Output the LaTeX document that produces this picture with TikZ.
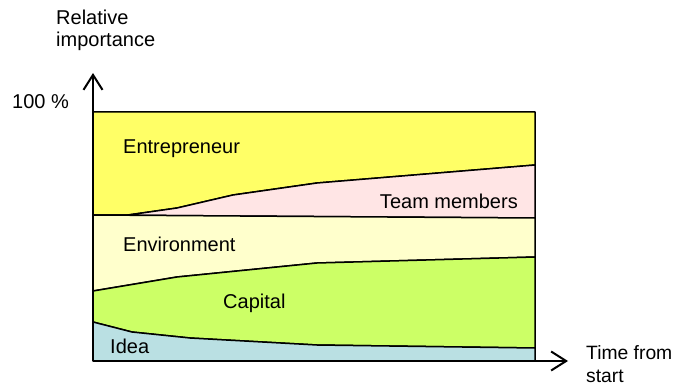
\documentclass[tikz,border=0pt]{standalone}
\usepackage{fontspec}
\setmainfont{Liberation Sans}
\usepackage{tikz}
\usetikzlibrary{arrows.meta, positioning}
\definecolor{entrecolor}{RGB}{255,255,102}
\definecolor{teamcolor}{RGB}{255,229,229}
\definecolor{envcolor}{RGB}{255,255,204}
\definecolor{capcolor}{RGB}{204,255,102}
\definecolor{ideacolor}{RGB}{186,224,227}

\begin{document}
\begin{tikzpicture}[
    x=1pt, y=-1pt,
    band/.style={draw, line width=1.5pt, line join=round, fill=#1},
    lbl/.style={anchor=base west, inner sep=0pt, font=\fontsize{20}{22.5}\selectfont, align=left},
    axis/.style={line width=2pt, -{Straight Barb[length=15pt, width=19pt, line width=2pt]}}
]
    \useasboundingbox (0,0) rectangle (674,385);

    % Bands
    \draw[band=entrecolor] (93,112) -- (535,112) -- (535,165) -- (317,183) -- (233,195) -- (177,208) -- (128,215) -- (93,215) -- cycle;
    \draw[band=teamcolor] (93,215) -- (128,215) -- (177,208) -- (233,195) -- (317,183) -- (535,165) -- (535,218) -- cycle;
    \draw[band=envcolor] (93,215) -- (535,218) -- (535,257) -- (317,263) -- (177,277) -- (93,291) -- cycle;
    \draw[band=capcolor] (93,291) -- (177,277) -- (317,263) -- (535,257) -- (535,348) -- (317,345) -- (190,338) -- (132,332) -- (93,322) -- cycle;
    \draw[band=ideacolor] (93,322) -- (132,332) -- (190,338) -- (317,345) -- (535,348) -- (535,361) -- (93,361) -- cycle;

    % Axes
    \coordinate (origin) at (93,361);
    \coordinate (ytip) at (93,73);
    \coordinate (xtip) at (568,361);
    \draw[axis] (origin) -- (ytip);
    \draw[axis] (origin) -- (xtip);

    % Labels
    \node[lbl] (entre) at (123,153) {Entrepreneur};
    \node[lbl, anchor=base east] (team) at (518,208) {Team members};
    \node[lbl] (env) at (123,251) {Environment};
    \node[lbl] (cap) at (223,308) {Capital};
    \node[lbl] (idea) at (110,353) {Idea};
    \node[lbl] (hundred) at (12,109) {100 \%};
    \node[lbl] (yname) at (56,47) {Relative\\importance};
    \node[lbl, font=\fontsize{19.3}{22.5}\selectfont] (xname) at (586,382) {Time from\\start};
\end{tikzpicture}
\end{document}
